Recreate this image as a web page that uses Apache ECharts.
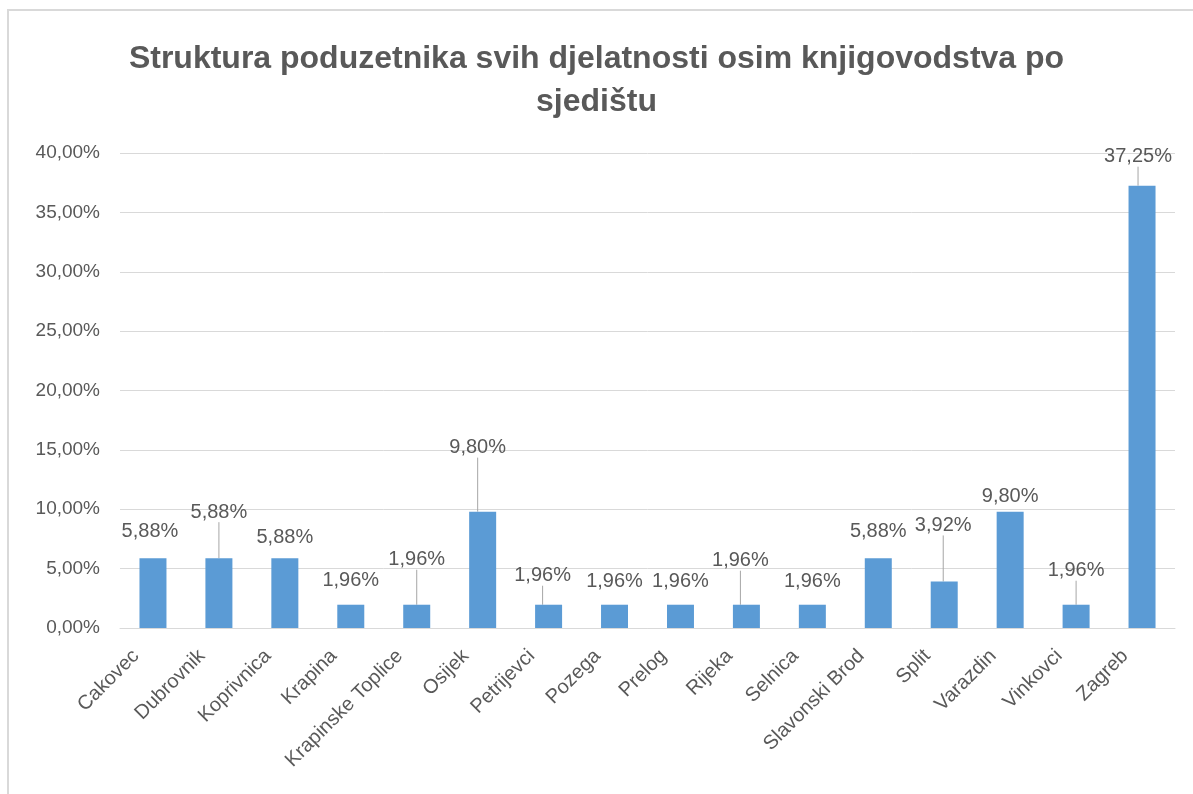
<!DOCTYPE html>
<html>
<head>
<meta charset="utf-8">
<title>Struktura poduzetnika</title>
<script src="https://cdn.jsdelivr.net/npm/echarts@6/dist/echarts.min.js"></script>
<style>
  html, body { margin: 0; padding: 0; background: #fff; }
  #main { width: 1193px; height: 794px; }
</style>
</head>
<body>
<div id="main"></div>
<script>
// podaci
var cities = ['Cakovec', 'Dubrovnik', 'Koprivnica', 'Krapina', 'Krapinske Toplice', 'Osijek',
  'Petrijevci', 'Pozega', 'Prelog', 'Rijeka', 'Selnica', 'Slavonski Brod', 'Split',
  'Varazdin', 'Vinkovci', 'Zagreb'];
var shares = [5.88, 5.88, 5.88, 1.96, 1.96, 9.80, 1.96, 1.96, 1.96, 1.96, 1.96, 5.88, 3.92, 9.80, 1.96, 37.25];

// pomaci oznaka (kao rucno pomaknute oznake u Excelu)
var labelShift = [[-3, -17], [0, -36], [0, -11], [0, -14], [0, -35], [-5, -54],
  [-6, -19], [0, -13], [0, -13], [-6, -34], [0, -13], [0, -17], [-1, -46],
  [0, -5], [0, -24], [-4, -19]];
var withLine = [0, 1, 0, 0, 1, 1, 1, 0, 0, 1, 0, 0, 1, 0, 1, 1];

function pct(v) {
  return v.toFixed(2).replace('.', ',') + '%';
}

var chart = echarts.init(document.getElementById('main'));

var option = {
  backgroundColor: '#fff',
  animation: false,
  textStyle: { fontFamily: 'Liberation Sans' },
  graphic: [{
    type: 'rect',
    shape: { x: 8, y: 10, width: 1300, height: 900 },
    style: { fill: 'none', stroke: '#d9d9d9', lineWidth: 2 },
    silent: true
  }],
  title: {
    text: 'Struktura poduzetnika svih djelatnosti osim knjigovodstva po\nsjedištu',
    left: 'center',
    top: 33,
    textStyle: {
      fontFamily: 'Liberation Sans',
      fontSize: 32,
      fontWeight: 'bold',
      color: '#595959',
      lineHeight: 43
    }
  },
  grid: { left: 120, right: 18, top: 153, bottom: 166 },
  xAxis: {
    type: 'category',
    data: cities,
    axisLine: { lineStyle: { color: '#d9d9d9', width: 1 } },
    axisTick: { show: false },
    axisLabel: {
      rotate: 45,
      interval: 0,
      margin: 8,
      padding: [0, 24, 0, 0],
      fontSize: 20,
      color: '#595959'
    }
  },
  yAxis: {
    type: 'value',
    min: 0,
    max: 40,
    interval: 5,
    axisLine: { show: false },
    axisTick: { show: false },
    splitLine: { lineStyle: { color: '#d9d9d9', width: 1 } },
    axisLabel: {
      margin: 20,
      fontSize: 19,
      color: '#595959',
      formatter: pct
    }
  },
  series: [{
    type: 'bar',
    barWidth: 27,
    itemStyle: { color: '#5b9bd5' },
    data: shares.map(function (v, i) {
      return { value: v, labelLine: { show: !!withLine[i] } };
    }),
    label: {
      show: true,
      position: 'top',
      distance: 0,
      fontSize: 20,
      color: '#595959',
      formatter: function (p) { return pct(p.value); }
    },
    labelLine: {
      lineStyle: { color: '#a6a6a6', width: 1 }
    },
    labelLayout: function (p) {
      var s = labelShift[p.dataIndex];
      return { dx: s[0], dy: s[1] };
    }
  }]
};

chart.setOption(option);
</script>
</body>
</html>
